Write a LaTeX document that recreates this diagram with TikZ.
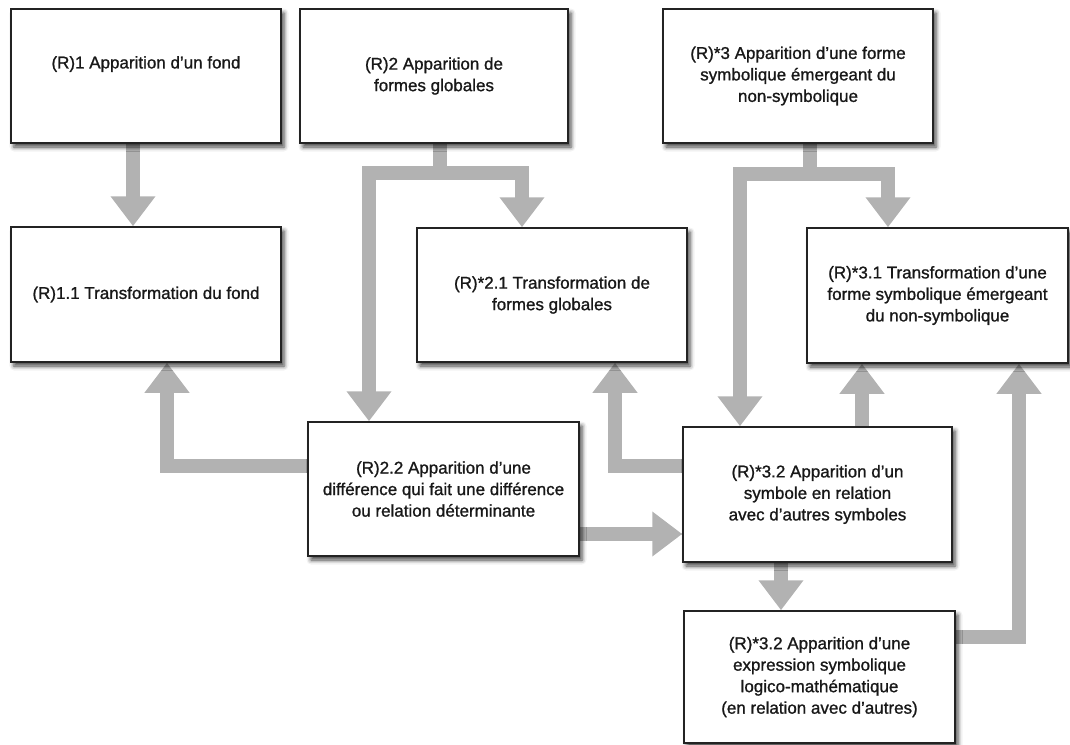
\documentclass[tikz,border=0pt]{standalone}
\usepackage{fontspec}
\setmainfont{Liberation Sans}
\usetikzlibrary{arrows.meta,shadows.blur}
\pgfdeclarelayer{background}
\pgfsetlayers{background,main}
\definecolor{flowgray}{RGB}{178,178,178}
\definecolor{boxline}{RGB}{35,35,35}
\definecolor{boxtext}{RGB}{24,24,24}
\begin{document}
\begin{tikzpicture}[x=1pt,y=-1pt,
  box/.style={draw=boxline, line width=1.5pt, fill=white, inner sep=0pt,
    align=center, text=boxtext,
    font=\fontsize{17}{21.5}\selectfont\addfontfeature{FakeBold=1.1},
    blur shadow={shadow xshift=3pt, shadow yshift=-4pt,
      shadow blur radius=4.5pt, shadow opacity=75}},
  flow/.style={draw=flowgray, line width=13.5pt, line join=miter,
    -{Triangle[width=43pt,length=30pt]}}
]
\useasboundingbox (0,0) rectangle (1070,744);

% boxes
\node[box, minimum width=270pt, minimum height=134pt] (b1) at (146,76)
  {(R)1 Apparition d'un fond\\[6pt]};
\node[box, minimum width=268pt, minimum height=134pt] (b2) at (434,76)
  {(R)2 Apparition de\\formes globales};
\node[box, minimum width=270pt, minimum height=134pt] (b3) at (798,76)
  {(R)*3 Apparition d'une forme\\symbolique émergeant du\\non-symbolique};
\node[box, minimum width=270pt, minimum height=135pt] (b11) at (146,294.5)
  {(R)1.1 Transformation du fond};
\node[box, minimum width=270pt, minimum height=134pt] (b21) at (552,295)
  {(R)*2.1 Transformation de\\formes globales};
\node[box, minimum width=261pt, minimum height=135pt] (b31) at (937.5,295.5)
  {(R)*3.1 Transformation d'une\\forme symbolique émergeant\\du non-symbolique};
\node[box, minimum width=271pt, minimum height=134pt] (b22) at (443.5,489)
  {(R)2.2 Apparition d'une\\différence qui fait une différence\\ou relation déterminante};
\node[box, minimum width=269pt, minimum height=135pt] (b32) at (817.5,494.5)
  {(R)*3.2 Apparition d'un\\symbole en relation\\avec d'autres symboles};
\node[box, minimum width=271pt, minimum height=132pt] (b4) at (819.5,677)
  {(R)*3.2 Apparition d'une\\expression symbolique\\logico-mathématique\\(en relation avec d'autres)};

% guide positions of the connector runs
\coordinate (v1) at (133,0);
\coordinate (s2) at (440,173);
\coordinate (l2) at (369,0);
\coordinate (r2) at (522,0);
\coordinate (s3) at (810,174);
\coordinate (l3) at (740,0);
\coordinate (r3) at (888,0);
\coordinate (h4) at (0,466);
\coordinate (v4) at (167,0);
\coordinate (h5) at (0,534);
\coordinate (v6) at (615,0);
\coordinate (v7) at (862,0);
\coordinate (v8) at (781,0);
\coordinate (h9) at (0,637);
\coordinate (v9) at (1019,0);

% connectors
\begin{pgfonlayer}{background}
\draw[flow] (b1.south -| v1) -- (b11.north -| v1);
\draw[flow] (b2.south -| s2) -- (s2) -| (b21.north -| r2);
\draw[flow] (b2.south -| s2) -- (s2) -| (b22.north -| l2);
\draw[flow] (b3.south -| s3) -- (s3) -| (b31.north -| r3);
\draw[flow] (b3.south -| s3) -- (s3) -| (b32.north -| l3);
\draw[flow] (b22.west |- h4) -| (b11.south -| v4);
\draw[flow] (b22.east |- h5) -- (b32.west |- h5);
\draw[flow] (b32.west |- h4) -| (b21.south -| v6);
\draw[flow] (b32.north -| v7) -- (b31.south -| v7);
\draw[flow] (b32.south -| v8) -- (b4.north -| v8);
\draw[flow] (b4.east |- h9) -| (b31.south -| v9);
\end{pgfonlayer}
\end{tikzpicture}
\end{document}
